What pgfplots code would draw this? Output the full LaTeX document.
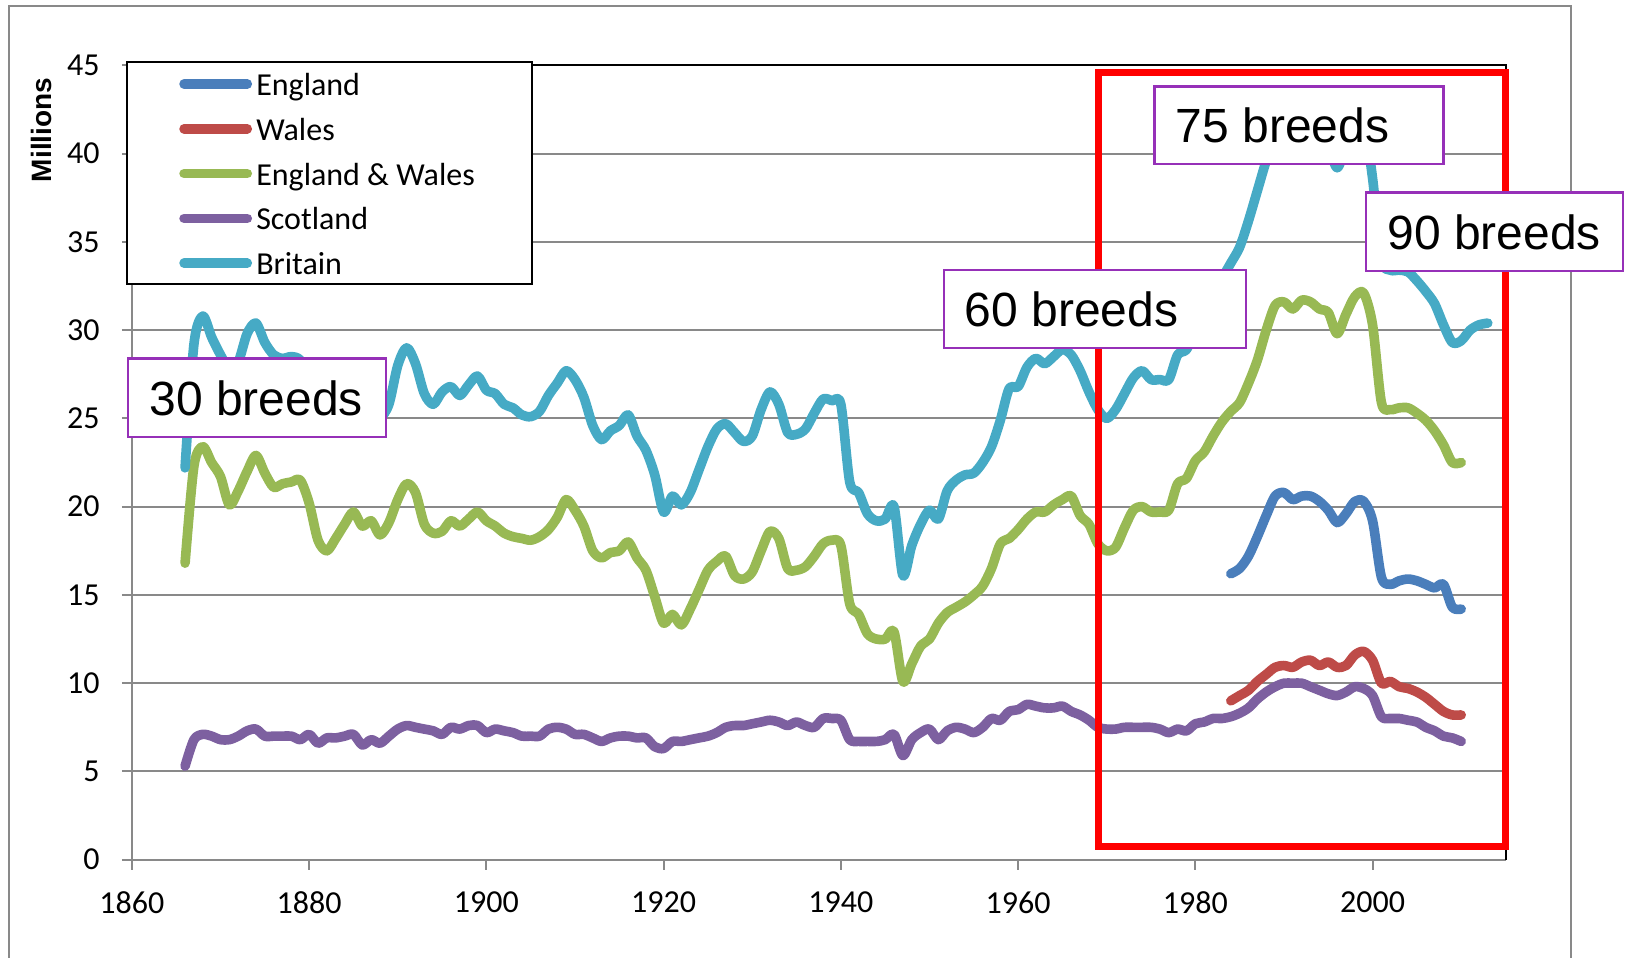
\documentclass[border=0pt]{standalone}
\usepackage{fontspec}
\setmainfont{Carlito}
\newfontfamily\arialfont{Liberation Sans}
\usepackage{pgfplots}
\usepackage{pgfplotstable}
\pgfplotsset{compat=1.18}

\definecolor{cEng}{HTML}{4A7EBB}
\definecolor{cWal}{HTML}{BE4B48}
\definecolor{cEW}{HTML}{98B954}
\definecolor{cSco}{HTML}{7D60A0}
\definecolor{cBri}{HTML}{46AAC5}
\definecolor{gridgray}{HTML}{898989}
\definecolor{boxpurple}{HTML}{9630B8}

\pgfplotstableread{
year val
1984 16.2
1985 16.5
1986 17.2
1987 18.3
1988 19.5
1989 20.6
1990 20.8
1991 20.4
1992 20.6
1993 20.6
1994 20.3
1995 19.8
1996 19.1
1997 19.6
1998 20.3
1999 20.3
2000 19.2
2001 16.0
2002 15.6
2003 15.8
2004 15.9
2005 15.8
2006 15.6
2007 15.4
2008 15.6
2009 14.3
2010 14.2
}\england

\pgfplotstableread{
year val
1984 9.0
1985 9.3
1986 9.6
1987 10.1
1988 10.5
1989 10.9
1990 11.0
1991 10.9
1992 11.2
1993 11.3
1994 11.0
1995 11.2
1996 10.9
1997 11.0
1998 11.6
1999 11.8
2000 11.3
2001 10.0
2002 10.1
2003 9.8
2004 9.7
2005 9.5
2006 9.2
2007 8.8
2008 8.4
2009 8.2
2010 8.2
}\wales

\pgfplotstableread{
year val
1866 16.8
1867 22.3
1868 23.4
1869 22.5
1870 21.7
1871 20.1
1872 20.9
1873 22.0
1874 22.9
1875 21.9
1876 21.1
1877 21.3
1878 21.4
1879 21.5
1880 20.2
1881 18.1
1882 17.5
1883 18.2
1884 19.0
1885 19.7
1886 18.9
1887 19.2
1888 18.4
1889 19.1
1890 20.4
1891 21.3
1892 20.8
1893 19.0
1894 18.5
1895 18.6
1896 19.2
1897 18.9
1898 19.3
1899 19.7
1900 19.2
1901 18.9
1902 18.5
1903 18.3
1904 18.2
1905 18.1
1906 18.3
1907 18.7
1908 19.4
1909 20.4
1910 19.8
1911 18.9
1912 17.5
1913 17.1
1914 17.4
1915 17.5
1916 18.0
1917 17.1
1918 16.4
1919 14.9
1920 13.4
1921 13.9
1922 13.3
1923 14.2
1924 15.3
1925 16.4
1926 16.9
1927 17.2
1928 16.1
1929 15.9
1930 16.3
1931 17.5
1932 18.6
1933 18.2
1934 16.5
1935 16.4
1936 16.6
1937 17.2
1938 17.9
1939 18.1
1940 17.8
1941 14.5
1942 13.9
1943 12.8
1944 12.5
1945 12.5
1946 12.9
1947 10.1
1948 11.1
1949 12.1
1950 12.5
1951 13.4
1952 14.0
1953 14.3
1954 14.6
1955 15.0
1956 15.5
1957 16.5
1958 17.9
1959 18.2
1960 18.7
1961 19.3
1962 19.7
1963 19.7
1964 20.1
1965 20.4
1966 20.6
1967 19.5
1968 19.0
1969 17.9
1970 17.5
1971 17.7
1972 18.8
1973 19.8
1974 20.0
1975 19.7
1976 19.7
1977 19.8
1978 21.3
1979 21.6
1980 22.6
1981 23.1
1982 24.0
1983 24.8
1984 25.4
1985 25.9
1986 27.0
1987 28.3
1988 30.0
1989 31.4
1990 31.6
1991 31.2
1992 31.7
1993 31.6
1994 31.2
1995 31.0
1996 29.8
1997 30.9
1998 31.9
1999 32.1
2000 30.3
2001 25.9
2002 25.5
2003 25.6
2004 25.6
2005 25.3
2006 24.9
2007 24.3
2008 23.5
2009 22.5
2010 22.5
}\engwal

\pgfplotstableread{
year val
1866 5.3
1867 6.8
1868 7.1
1869 7.0
1870 6.8
1871 6.8
1872 7.0
1873 7.3
1874 7.4
1875 7.0
1876 7.0
1877 7.0
1878 7.0
1879 6.8
1880 7.1
1881 6.6
1882 6.9
1883 6.9
1884 7.0
1885 7.1
1886 6.5
1887 6.8
1888 6.6
1889 7.0
1890 7.4
1891 7.6
1892 7.5
1893 7.4
1894 7.3
1895 7.1
1896 7.5
1897 7.4
1898 7.6
1899 7.6
1900 7.2
1901 7.4
1902 7.3
1903 7.2
1904 7.0
1905 7.0
1906 7.0
1907 7.4
1908 7.5
1909 7.4
1910 7.1
1911 7.1
1912 6.9
1913 6.7
1914 6.9
1915 7.0
1916 7.0
1917 6.9
1918 6.9
1919 6.4
1920 6.3
1921 6.7
1922 6.7
1923 6.8
1924 6.9
1925 7.0
1926 7.2
1927 7.5
1928 7.6
1929 7.6
1930 7.7
1931 7.8
1932 7.9
1933 7.8
1934 7.6
1935 7.8
1936 7.6
1937 7.5
1938 8.0
1939 8.0
1940 7.9
1941 6.8
1942 6.7
1943 6.7
1944 6.7
1945 6.8
1946 7.1
1947 5.9
1948 6.8
1949 7.2
1950 7.4
1951 6.8
1952 7.3
1953 7.5
1954 7.4
1955 7.2
1956 7.5
1957 8.0
1958 7.9
1959 8.4
1960 8.5
1961 8.8
1962 8.7
1963 8.6
1964 8.6
1965 8.7
1966 8.4
1967 8.2
1968 7.9
1969 7.5
1970 7.4
1971 7.4
1972 7.5
1973 7.5
1974 7.5
1975 7.5
1976 7.4
1977 7.2
1978 7.4
1979 7.3
1980 7.7
1981 7.8
1982 8.0
1983 8.0
1984 8.1
1985 8.3
1986 8.6
1987 9.1
1988 9.5
1989 9.8
1990 10.0
1991 10.0
1992 10.0
1993 9.8
1994 9.6
1995 9.4
1996 9.3
1997 9.5
1998 9.8
1999 9.7
2000 9.3
2001 8.1
2002 8.0
2003 8.0
2004 7.9
2005 7.8
2006 7.5
2007 7.3
2008 7.0
2009 6.9
2010 6.7
}\scotland

\pgfplotstableread{
year val
1866 22.2
1867 29.2
1868 30.8
1869 29.6
1870 28.6
1871 27.8
1872 28.2
1873 29.8
1874 30.4
1875 29.3
1876 28.6
1877 28.4
1878 28.5
1879 28.3
1880 27.2
1881 25.0
1882 24.4
1883 25.1
1884 26.2
1885 26.7
1886 25.6
1887 26.0
1888 25.1
1889 25.8
1890 28.0
1891 29.0
1892 28.1
1893 26.4
1894 25.8
1895 26.5
1896 26.8
1897 26.3
1898 26.9
1899 27.4
1900 26.6
1901 26.4
1902 25.8
1903 25.6
1904 25.2
1905 25.1
1906 25.4
1907 26.3
1908 27.0
1909 27.7
1910 27.2
1911 26.2
1912 24.6
1913 23.8
1914 24.3
1915 24.6
1916 25.2
1917 24.0
1918 23.2
1919 21.8
1920 19.7
1921 20.6
1922 20.1
1923 20.8
1924 22.1
1925 23.4
1926 24.4
1927 24.7
1928 24.2
1929 23.7
1930 24.0
1931 25.5
1932 26.5
1933 25.8
1934 24.2
1935 24.1
1936 24.4
1937 25.3
1938 26.1
1939 26.0
1940 25.8
1941 21.4
1942 20.8
1943 19.6
1944 19.2
1945 19.3
1946 20.0
1947 16.1
1948 17.8
1949 19.0
1950 19.8
1951 19.3
1952 20.9
1953 21.5
1954 21.8
1955 21.9
1956 22.5
1957 23.4
1958 24.9
1959 26.7
1960 26.8
1961 27.9
1962 28.4
1963 28.1
1964 28.5
1965 28.9
1966 28.6
1967 27.7
1968 26.5
1969 25.5
1970 25.0
1971 25.5
1972 26.4
1973 27.3
1974 27.7
1975 27.2
1976 27.2
1977 27.2
1978 28.6
1979 28.9
1980 30.0
1981 30.9
1982 31.8
1983 32.9
1984 33.8
1985 34.7
1986 36.2
1987 37.9
1988 39.6
1989 41.0
1990 41.5
1991 41.2
1992 41.6
1993 41.3
1994 40.8
1995 40.4
1996 39.2
1997 40.4
1998 41.6
1999 41.8
2000 38.6
2001 34.0
2002 33.4
2003 33.4
2004 33.3
2005 32.8
2006 32.2
2007 31.5
2008 30.3
2009 29.3
2010 29.4
2011 30.0
2012 30.3
2013 30.4
}\britain

\begin{document}
\begin{tikzpicture}
% outer chart frame
\draw[gridgray, line width=1pt] (4.45pt,-5pt) -- (4.45pt,476pt) -- (785.7pt,476pt) -- (785.7pt,-5pt);
\begin{axis}[
  at={(65.95pt,49.15pt)}, anchor=south west,
  scale only axis, width=686.8pt, height=397.15pt,
  xmin=1860, xmax=2015, ymin=0, ymax=45,
  xtick={1860,1880,...,2000}, ytick={0,5,...,45},
  axis line style={draw=none},
  tick align=outside, xtick pos=left, ytick pos=left,
  major tick length=5pt,
  tick style={draw=gridgray, line width=0.95pt},
  ymajorgrids, grid style={draw=gridgray, line width=0.95pt},
  /pgf/number format/assume math mode=true,
  /pgf/number format/1000 sep={},
  ticklabel style={font=\fontsize{16}{16}\selectfont, inner sep=0pt},
  xticklabel shift=11pt, yticklabel shift=11pt,
  ylabel={Millions},
  every axis y label/.style={at={(axis description cs:-0.0658,0.9187)}, rotate=90, anchor=center, font=\arialfont\bfseries\fontsize{14}{14}\selectfont},
  clip=false,
  legend cell align=left,
  legend image code/.code={\draw[#1] (0pt,0pt) -- (31.6pt,0pt);},
  legend style={at={(axis description cs:0.0342,0.99533)}, anchor=north west,
    draw=none, fill=none, inner sep=0pt,
    font=\fontsize{16}{16}\selectfont,
    nodes={inner sep=0pt},
    row sep=7.9pt,
    cells={anchor=west},
    /tikz/every odd column/.append style={column sep=2.1pt},
    /tikz/every even column/.append style={text height=13pt, text depth=2.8pt}},
  every axis plot post/.append style={line width=4.8pt, line cap=round, line join=round, smooth, tension=0.5},
]
\addplot[cEng] table[x=year,y=val] {\england};
\addlegendentry{England}
\addplot[cWal] table[x=year,y=val] {\wales};
\addlegendentry{Wales}
\addplot[cEW] table[x=year,y=val] {\engwal};
\addlegendentry{England \& Wales}
\addplot[cSco] table[x=year,y=val] {\scotland};
\addlegendentry{Scotland}
\addplot[cBri] table[x=year,y=val] {\britain};
\addlegendentry{Britain}

% axis frame
\draw[gridgray, line width=0.95pt] (rel axis cs:0,1) -- (rel axis cs:0,0) -- (rel axis cs:1,0);
\draw[black, line width=1pt] (rel axis cs:0,1) -- (rel axis cs:1,1) -- (rel axis cs:1,0);

% red highlight
\draw[red, line width=3.5pt] (axis cs:1969.1,0.75) rectangle (axis cs:2015,44.62);

% annotation boxes
\draw[boxpurple, line width=1.1pt, fill=white] (axis cs:1859.6,23.96) rectangle (axis cs:1888.7,28.4);
\node[anchor=base west, inner sep=0pt, xshift=10.4pt, font=\arialfont\fontsize{24}{24}\selectfont] at (axis cs:1859.6,25.19) {30 breeds};
\draw[boxpurple, line width=1.1pt, fill=white] (axis cs:1951.6,29.0) rectangle (axis cs:1985.7,33.43);
\node[anchor=base west, inner sep=0pt, xshift=10.4pt, font=\arialfont\fontsize{24}{24}\selectfont] at (axis cs:1951.6,30.23) {60 breeds};
\draw[boxpurple, line width=1.1pt, fill=white] (axis cs:1975.4,39.4) rectangle (axis cs:2008.0,43.8);
\node[anchor=base west, inner sep=0pt, xshift=10.4pt, font=\arialfont\fontsize{24}{24}\selectfont] at (axis cs:1975.4,40.63) {75 breeds};
\draw[boxpurple, line width=1.1pt, fill=white] (axis cs:1999.3,33.36) rectangle (axis cs:2028.3,37.8);
\node[anchor=base west, inner sep=0pt, xshift=10.4pt, font=\arialfont\fontsize{24}{24}\selectfont] at (axis cs:1999.3,34.59) {90 breeds};

% legend frame
\draw[black, line width=1pt, fill=white] (axis cs:1859.5,32.59) rectangle (axis cs:1905.2,45.18);
\end{axis}
\pgfresetboundingbox
\path[use as bounding box] (0,0) rectangle (814pt,479pt);
\end{tikzpicture}
\end{document}
